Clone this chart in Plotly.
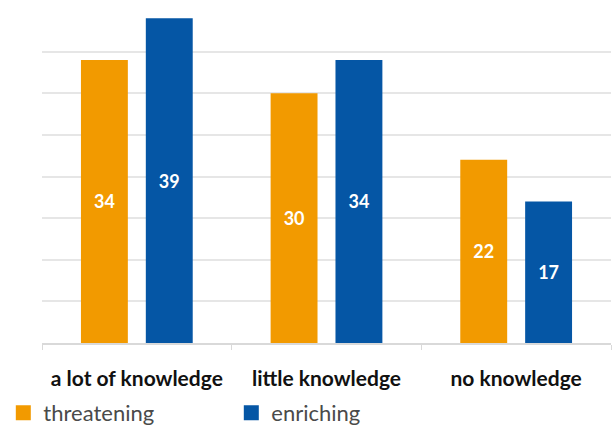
import plotly.graph_objects as go

categories = ["a lot of knowledge", "little knowledge", "no knowledge"]
threatening = [34, 30, 22]
enriching = [39, 34, 17]
series_names = ["threatening", "enriching"]
colors = ["#F29A00", "#0556A5"]

fig = go.Figure()
for name, vals, col in zip(series_names, [threatening, enriching], colors):
    fig.add_trace(go.Bar(
        x=categories, y=vals, name=name, legendgroup=name, showlegend=False,
        marker=dict(color=col, line=dict(width=0)),
        text=[str(v) for v in vals], textposition="inside", insidetextanchor="middle",
        textfont=dict(family="Lato", size=18, color="white", weight="bold"),
        textangle=0,
    ))
# legend entries (square swatches) linked to the bar series
for name, col in zip(series_names, colors):
    fig.add_trace(go.Scatter(
        x=[None], y=[None], mode="markers", name=name, legendgroup=name,
        marker=dict(symbol="square", size=15, color=col), showlegend=True,
    ))

fig.update_layout(
    width=613, height=427,
    margin=dict(l=42, r=2, t=10, b=84, autoexpand=False),
    paper_bgcolor="white", plot_bgcolor="white",
    barmode="group", bargap=0.316, bargroupgap=0.277,
    font=dict(family="Lato", size=21, color="#444444"),
    showlegend=True,
    legend=dict(orientation="h", x=-0.068, xanchor="left",
                y=-0.21, yanchor="middle", bgcolor="rgba(0,0,0,0)",
                entrywidth=183, entrywidthmode="pixels",
                font=dict(family="Lato", size=22, color="#4a4a4a"),
                itemclick=False, itemdoubleclick=False),
    uniformtext=dict(minsize=8, mode="show"),
)
fig.update_yaxes(range=[0, 40], dtick=5, showticklabels=False, gridcolor="#e6e6e6",
                 gridwidth=1.5, zeroline=False, showline=False, fixedrange=True)
fig.update_xaxes(showline=True, linecolor="#d9d9d9", linewidth=2, ticks="outside",
                 tickson="boundaries", ticklen=5, tickcolor="#d9d9d9", tickwidth=1,
                 ticklabelstandoff=16,
                 tickfont=dict(family="Lato", size=21, color="#111111", weight="bold"),
                 showgrid=False, fixedrange=True)

fig.write_html("out.html")
